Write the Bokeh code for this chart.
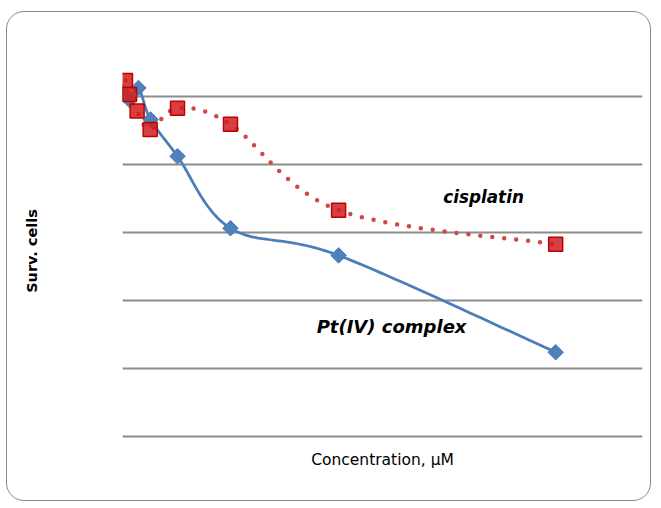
import numpy as np
from bokeh.plotting import figure
from bokeh.models import FixedTicker, Label, Range1d
from bokeh.embed import file_html
from bokeh.resources import INLINE

# ---- data ----
pt_conc = [0.0, 1.8, 3.9, 6.7, 12.9, 25.1, 50.0, 100.0]
pt_surv = [101.5, 99.0, 102.5, 93.2, 82.4, 61.2, 53.2, 24.7]
cis_conc = [0.92, 1.84, 3.6, 6.6, 12.9, 25.1, 50.0, 100.0]
cis_surv = [104.7, 100.6, 95.7, 90.3, 96.5, 91.8, 66.5, 56.5]
grid_ticks = [0, 20, 40, 60, 80, 100]


def smooth(xs, ys, n=24):
    """Catmull-Rom style smoothing (like a smoothed spreadsheet line)."""
    xs = np.asarray(xs, float)
    ys = np.asarray(ys, float)
    px = np.concatenate([[xs[0]], xs, [xs[-1]]])
    py = np.concatenate([[ys[0]], ys, [ys[-1]]])
    ox, oy = [], []
    for i in range(1, len(px) - 2):
        p0x, p1x, p2x, p3x = px[i - 1], px[i], px[i + 1], px[i + 2]
        p0y, p1y, p2y, p3y = py[i - 1], py[i], py[i + 1], py[i + 2]
        c1x, c1y = p1x + (p2x - p0x) / 6, p1y + (p2y - p0y) / 6
        c2x, c2y = p2x - (p3x - p1x) / 6, p2y - (p3y - p1y) / 6
        t = np.linspace(0, 1, n, endpoint=(i == len(px) - 3))
        b0 = (1 - t) ** 3
        b1 = 3 * (1 - t) ** 2 * t
        b2 = 3 * (1 - t) * t ** 2
        b3 = t ** 3
        ox.extend(b0 * p1x + b1 * c1x + b2 * c2x + b3 * p2x)
        oy.extend(b0 * p1y + b1 * c1y + b2 * c2y + b3 * p2y)
    return ox, oy


p = figure(width=645, height=490, output_backend="svg", toolbar_location=None,
           x_range=Range1d(0.23, 120.0), y_range=Range1d(-1, 110),
           min_border_left=115, min_border_right=10, min_border_top=50,
           min_border_bottom=63)

p.styles = {"border": "1.5px solid #8a8a8a", "border-radius": "18px",
            "margin-top": "11px", "margin-left": "6px"}
p.border_fill_color = None
p.outline_line_color = None
p.xgrid.visible = False
p.ygrid.ticker = FixedTicker(ticks=grid_ticks)
p.ygrid.grid_line_color = "#8c8c8c"
p.ygrid.grid_line_width = 2

for ax in (p.xaxis[0], p.yaxis[0]):
    ax.ticker = FixedTicker(ticks=[])
    ax.axis_line_color = None
    ax.major_tick_line_color = None
    ax.minor_tick_line_color = None
    ax.major_label_standoff = 0

p.xaxis.axis_label = "Concentration, μM"
p.xaxis.axis_label_text_font = "DejaVu Sans"
p.xaxis.axis_label_text_font_style = "normal"
p.xaxis.axis_label_text_font_size = "15.5px"
p.xaxis.axis_label_text_color = "#000000"
p.xaxis.axis_label_standoff = 11

p.yaxis.axis_label = "Surv. cells"
p.yaxis.axis_label_text_font = "DejaVu Sans"
p.yaxis.axis_label_text_font_style = "bold"
p.yaxis.axis_label_text_font_size = "14.5px"
p.yaxis.axis_label_text_color = "#000000"
p.yaxis.axis_label_standoff = 83

# Pt(IV) complex: smoothed solid blue with diamonds
bx, by = smooth(pt_conc, pt_surv)
p.line(bx, by, line_color="#4A7EBB", line_width=2.75)
p.scatter(pt_conc, pt_surv, marker="square", angle=np.pi / 4, size=11,
          fill_color="#4F81BD", line_color="#4A7EBB")

# cisplatin: smoothed dotted red with squares
rx, ry = smooth(cis_conc, cis_surv)
p.line(rx, ry, line_color="#D04848", line_width=4.5, line_dash="0 12",
       line_cap="round")
p.scatter(cis_conc, cis_surv, marker="square", size=14,
          fill_color="#D01E1E", fill_alpha=0.85, line_color="#C00000",
          line_width=1.5)

p.add_layout(Label(x=83.4, y=70.3, text="cisplatin", text_align="center",
                   text_baseline="middle", text_font="DejaVu Sans",
                   text_font_style="bold italic", text_font_size="16.8px",
                   text_color="#000000"))
p.add_layout(Label(x=62.2, y=32.4, text="Pt(IV) complex", text_align="center",
                   text_baseline="middle", text_font="DejaVu Sans",
                   text_font_style="bold italic", text_font_size="18px",
                   text_color="#000000"))

open("out.html", "w").write(file_html(p, INLINE))
